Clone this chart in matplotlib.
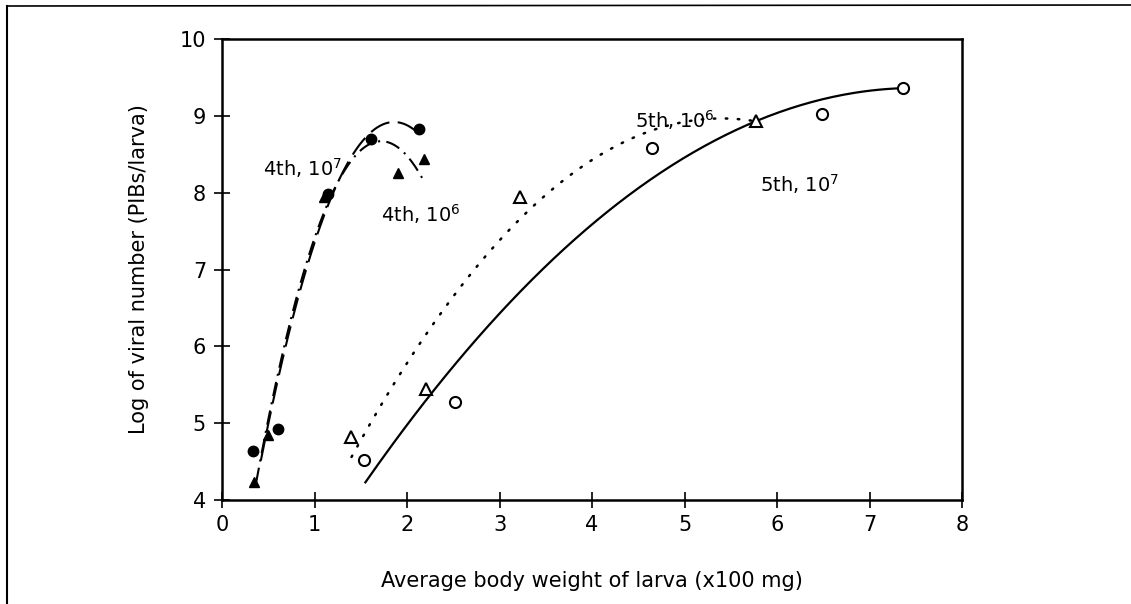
import matplotlib
matplotlib.use("Agg")
import matplotlib.pyplot as plt
from matplotlib.lines import Line2D
import numpy as np

# 4th instar, 10^7 dose (filled circles)
circ4_x = [0.33, 0.61, 1.15, 1.61, 2.13]
circ4_y = [4.64, 4.92, 7.98, 8.70, 8.83]
# 4th instar, 10^6 dose (filled triangles)
tri4_x = [0.35, 0.50, 1.10, 1.90, 2.18]
tri4_y = [4.23, 4.85, 7.95, 8.26, 8.44]
# 5th instar, 10^6 dose (open triangles)
tri5_x = [1.39, 2.21, 3.22, 5.77]
tri5_y = [4.82, 5.44, 7.94, 8.93]
# 5th instar, 10^7 dose (open circles)
circ5_x = [1.54, 2.52, 4.65, 6.49, 7.36]
circ5_y = [4.52, 5.27, 8.58, 9.02, 9.36]

# quadratic fits drawn in the figure (coefficients high -> low) and their x spans
fit4_7 = [-2.125, 7.905, 1.568]
span4_7 = (0.42, 2.08)
fit4_6 = [-2.434, 8.373, 1.469]
span4_6 = (0.37, 2.17)
fit5_6 = [-0.2752, 2.973, 0.937]
span5_6 = (1.40, 5.77)
fit5_7 = [-0.1450, 2.175, 1.207]
span5_7 = (1.55, 7.33)

x_ticks = [0, 1, 2, 3, 4, 5, 6, 7, 8]
y_ticks = [4, 5, 6, 7, 8, 9, 10]

plt.rcParams["font.family"] = ["DejaVu Sans"]
plt.rcParams["mathtext.fontset"] = "dejavusans"

fig = plt.figure(figsize=(11.31, 6.04), dpi=100, facecolor="white")
ax = fig.add_axes([0.1963, 0.1722, 0.6543, 0.7632])


def fit_curve(coef, span):
    xs = np.linspace(span[0], span[1], 200)
    return xs, np.polyval(coef, xs)


xs, ys = fit_curve(fit4_7, span4_7)
ax.plot(xs, ys, color="black", lw=1.5, linestyle=(0, (10, 4)))
xs, ys = fit_curve(fit4_6, span4_6)
ax.plot(xs, ys, color="black", lw=1.5, linestyle=(0, (7, 3, 1, 3)))
xs, ys = fit_curve(fit5_6, span5_6)
ax.plot(xs, ys, color="black", lw=1.8, linestyle=(0, (0.6, 4.2)), dash_capstyle="round")
xs, ys = fit_curve(fit5_7, span5_7)
ax.plot(xs, ys, color="black", lw=1.6, linestyle="-")

ax.plot(circ4_x, circ4_y, "o", color="black", ms=7.5, ls="none")
ax.plot(tri4_x, tri4_y, "^", color="black", ms=7, ls="none")
ax.plot(tri5_x, tri5_y, "^", mfc="white", mec="black", mew=1.5, ms=8, ls="none")
ax.plot(circ5_x, circ5_y, "o", mfc="white", mec="black", mew=1.5, ms=8, ls="none")

text_kw = dict(fontsize=14, color="black", va="center", ha="left")
ax.text(0.44, 8.32, "4th, 10$^7$", **text_kw)
ax.text(1.72, 7.72, "4th, 10$^6$", **text_kw)
ax.text(4.46, 8.95, "5th, 10$^6$", **text_kw)
ax.text(5.82, 8.11, "5th, 10$^7$", **text_kw)

ax.set_xlim(0, 8)
ax.set_ylim(4, 10)
ax.set_xticks(x_ticks)
ax.set_yticks(y_ticks)
ax.tick_params(direction="inout", length=11, width=1.2, labelsize=15, pad=5)
ax.tick_params(axis="y", pad=6)
for spine in ax.spines.values():
    spine.set_linewidth(1.8)

ax.set_xlabel("Average body weight of larva (x100 mg)", fontsize=15, labelpad=26)
ax.set_ylabel("Log of viral number (PIBs/larva)", fontsize=15, labelpad=22)

# scanned page frame
fig.add_artist(Line2D([7 / 1131, 7 / 1131], [0, 1 - 6 / 604], transform=fig.transFigure,
                      color="black", lw=1.5))
fig.add_artist(Line2D([7 / 1131, 1], [1 - 6 / 604, 1 - 5 / 604], transform=fig.transFigure,
                      color="black", lw=1.2))

fig.savefig("out.png", dpi=100, facecolor="white")
